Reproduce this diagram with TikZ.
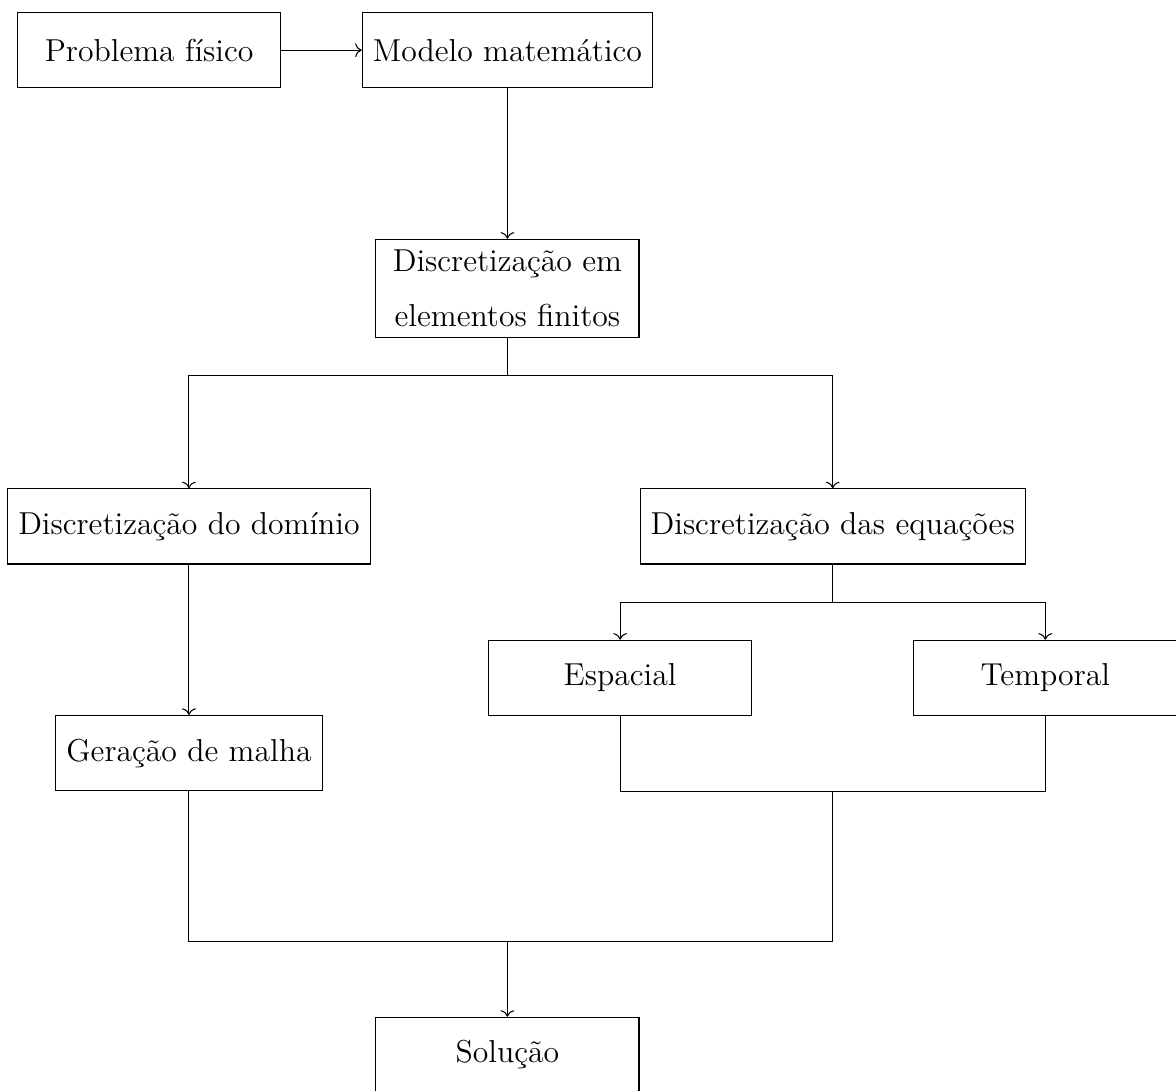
\documentclass[tikz,border=0pt,12pt]{standalone}
\usepackage{tikz}
\usetikzlibrary{positioning, calc, arrows.meta}

\begin{document}
\begin{tikzpicture}[
        node distance=2cm,
        box/.style={rectangle, draw, align=center, minimum width=3.5cm, minimum height=1cm},
        arrow/.style={->}
    ]

    \useasboundingbox (-1.983,0.667) rectangle ++(15.638,-14.495);

    % Nodes
    \node (fisico) [box] at (0,0) {Problema físico};
    \node (modelo) [box, right=1.07cm of fisico] {Modelo matemático};
    \node (mef) [box, below=of modelo] {Discretização em\\[6.3pt] elementos finitos};

    \node (dominio) [box, below left=2cm and 0.06cm of mef] {Discretização do domínio};
    \node (equacoes) [box, below right=2cm and 0cm of mef] {Discretização das equações};

    \node (espacial) [box, below left=1cm and 1.07cm of equacoes.south] {Espacial};
    \node (temporal) [box, below right=1cm and 1.07cm of equacoes.south] {Temporal};
    \node (malha) [box, below=of dominio] {Geração de malha};

    \coordinate (juntaeq) at ($(espacial.south)!0.5!(temporal.south)+(0,-1)$);
    \coordinate (juntatudo) at ($(malha.south)+(0,-2)$);

    \node (solucao) [box, anchor=north] at ($(juntatudo -| mef)+(0,-1)$) {Solução};

    % Arrows
    \draw [arrow] (fisico) -- (modelo);
    \draw [arrow] (modelo) -- (mef);
    \draw [arrow] (mef.south) -- ++(0,-0.5) -| (dominio.north);
    \draw [arrow] (mef.south) -- ++(0,-0.5) -| (equacoes.north);
    \draw [arrow] (dominio) -- (malha);
    \draw [arrow] (equacoes.south) -- ++(0,-0.5) -| (espacial.north);
    \draw [arrow] (equacoes.south) -- ++(0,-0.5) -| (temporal.north);

    \draw (espacial.south) -- ++(0,-1) -| (temporal.south);
    \draw (malha.south) -- (juntatudo) -| (juntaeq);
    \draw [arrow] (juntatudo -| solucao) -- (solucao);

\end{tikzpicture}
\end{document}
